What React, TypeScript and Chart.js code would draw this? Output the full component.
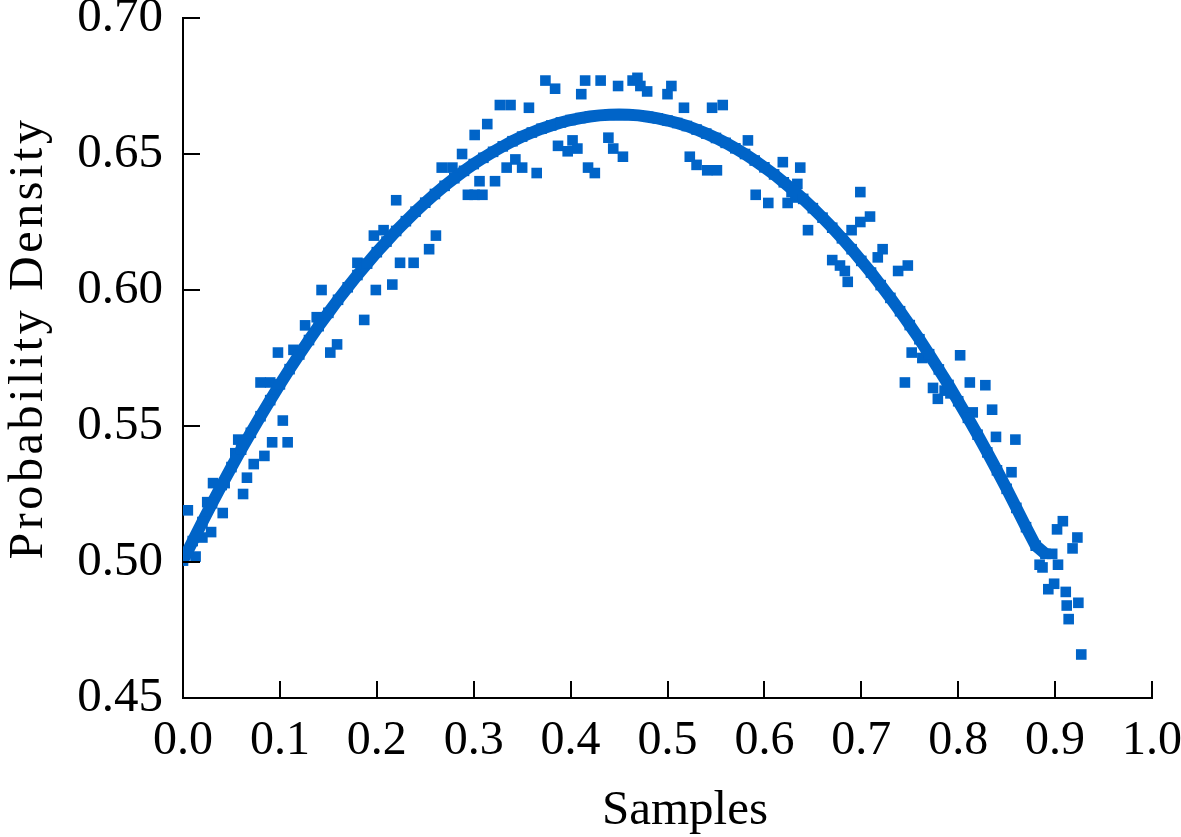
import React, { useEffect, useRef } from 'react';
import { Chart, registerables } from 'chart.js';

Chart.register(...registerables);

// Dense fitted curve
const curveX = [
  0.00, 0.01, 0.02, 0.03, 0.04, 0.05, 0.06, 0.07, 0.08, 0.09,
  0.10, 0.11, 0.12, 0.13, 0.14, 0.15, 0.16, 0.17, 0.18, 0.19,
  0.20, 0.21, 0.22, 0.23, 0.24, 0.25, 0.26, 0.27, 0.28, 0.29,
  0.30, 0.31, 0.32, 0.33, 0.34, 0.35, 0.36, 0.37, 0.38, 0.39,
  0.40, 0.41, 0.42, 0.43, 0.44, 0.45, 0.46, 0.47, 0.48, 0.49,
  0.50, 0.51, 0.52, 0.53, 0.54, 0.55, 0.56, 0.57, 0.58, 0.59,
  0.60, 0.61, 0.62, 0.63, 0.64, 0.65, 0.66, 0.67, 0.68, 0.69,
  0.70, 0.71, 0.72, 0.73, 0.74, 0.75, 0.76, 0.77, 0.78, 0.79,
  0.80, 0.81, 0.82, 0.83, 0.84, 0.85, 0.86, 0.87, 0.88, 0.89,
];
const curveY = [
  0.5005, 0.5077, 0.5147, 0.5216, 0.5283, 0.5349, 0.5413, 0.5475, 0.5536, 0.5595,
  0.5653, 0.5709, 0.5763, 0.5816, 0.5867, 0.5916, 0.5964, 0.6010, 0.6055, 0.6097,
  0.6139, 0.6178, 0.6217, 0.6253, 0.6288, 0.6321, 0.6353, 0.6383, 0.6411, 0.6438,
  0.6463, 0.6486, 0.6508, 0.6528, 0.6547, 0.6564, 0.6579, 0.6593, 0.6605, 0.6616,
  0.6625, 0.6632, 0.6638, 0.6642, 0.6644, 0.6645, 0.6644, 0.6642, 0.6637, 0.6631,
  0.6623, 0.6614, 0.6603, 0.6590, 0.6575, 0.6559, 0.6541, 0.6521, 0.6500, 0.6476,
  0.6451, 0.6425, 0.6396, 0.6366, 0.6335, 0.6301, 0.6266, 0.6229, 0.6190, 0.6150,
  0.6107, 0.6064, 0.6018, 0.5971, 0.5922, 0.5871, 0.5819, 0.5764, 0.5708, 0.5651,
  0.5591, 0.5530, 0.5468, 0.5403, 0.5337, 0.5269, 0.5199, 0.5128, 0.5060, 0.5030,
];

// Scattered samples around the curve
const sampleX = [
  0.005, 0.013, 0.020, 0.025, 0.029, 0.031, 0.041, 0.043, 0.054, 0.057,
  0.062, 0.066, 0.073, 0.080, 0.084, 0.090, 0.092, 0.098, 0.103, 0.108,
  0.114, 0.126, 0.138, 0.143, 0.152, 0.159, 0.180, 0.187, 0.197, 0.199,
  0.207, 0.216, 0.220, 0.224, 0.238, 0.254, 0.261, 0.267, 0.278, 0.288,
  0.294, 0.301, 0.301, 0.306, 0.309, 0.314, 0.322, 0.327, 0.334, 0.338,
  0.343, 0.350, 0.357, 0.365, 0.374, 0.384, 0.387, 0.397, 0.402, 0.407,
  0.411, 0.415, 0.418, 0.425, 0.431, 0.439, 0.444, 0.449, 0.454, 0.464,
  0.469, 0.472, 0.479, 0.500, 0.504, 0.517, 0.523, 0.530, 0.541, 0.546,
  0.551, 0.557, 0.583, 0.591, 0.604, 0.619, 0.624, 0.634, 0.637, 0.645,
  0.670, 0.678, 0.683, 0.686, 0.690, 0.699, 0.699, 0.709, 0.717, 0.722,
  0.738, 0.745, 0.748, 0.752, 0.763, 0.774, 0.779, 0.802, 0.812, 0.815,
  0.828, 0.835, 0.839, 0.855, 0.859, 0.884, 0.887, 0.893, 0.897, 0.899,
  0.902, 0.903, 0.908, 0.911, 0.912, 0.914, 0.918, 0.923, 0.924, 0.927,
  0.628, 0.632, 0.786, 0.792,
];
const sampleY = [
  0.519, 0.502, 0.509, 0.522, 0.511, 0.529, 0.518, 0.529, 0.540, 0.545,
  0.525, 0.531, 0.536, 0.566, 0.539, 0.566, 0.544, 0.577, 0.552, 0.544,
  0.578, 0.587, 0.590, 0.600, 0.577, 0.580, 0.610, 0.589, 0.620, 0.600,
  0.622, 0.602, 0.633, 0.610, 0.610, 0.615, 0.620, 0.645, 0.645, 0.650,
  0.635, 0.657, 0.635, 0.640, 0.635, 0.661, 0.640, 0.668, 0.645, 0.668,
  0.648, 0.645, 0.667, 0.643, 0.677, 0.674, 0.653, 0.651, 0.655, 0.652,
  0.672, 0.677, 0.645, 0.643, 0.677, 0.656, 0.652, 0.675, 0.649, 0.677,
  0.678, 0.675, 0.673, 0.672, 0.675, 0.667, 0.649, 0.646, 0.644, 0.667,
  0.644, 0.668, 0.655, 0.635, 0.632, 0.647, 0.632, 0.639, 0.645, 0.622,
  0.611, 0.609, 0.607, 0.603, 0.622, 0.625, 0.636, 0.627, 0.612, 0.615,
  0.607, 0.566, 0.609, 0.577, 0.575, 0.564, 0.560, 0.576, 0.566, 0.555,
  0.565, 0.556, 0.546, 0.533, 0.545, 0.499, 0.498, 0.490, 0.503, 0.492,
  0.512, 0.499, 0.515, 0.489, 0.484, 0.479, 0.505, 0.509, 0.485, 0.466,
  0.636, 0.634, 0.563, 0.562,
];

const xAxisMin = 0;
const xAxisMax = 1;
const xAxisStep = 0.1;
const yAxisMin = 0.45;
const yAxisMax = 0.7;
const yAxisStep = 0.05;

const xTitle = 'Samples';
const yTitle = 'Probability Density';

const COLOR = '#0064C8';
const FONT = "'Liberation Serif', 'Times New Roman', Times, serif";

const innerTicks = {
  id: 'innerTicks',
  afterDraw(chart: any) {
    const { ctx, chartArea, scales } = chart;
    const len = 17;
    ctx.save();
    ctx.strokeStyle = '#000';
    ctx.lineWidth = 2;
    scales.x.ticks.forEach((t: any) => {
      const p = Math.round(scales.x.getPixelForValue(t.value));
      ctx.beginPath();
      ctx.moveTo(p, chartArea.bottom);
      ctx.lineTo(p, chartArea.bottom - len);
      ctx.stroke();
    });
    scales.y.ticks.forEach((t: any) => {
      const p = Math.round(scales.y.getPixelForValue(t.value));
      ctx.beginPath();
      ctx.moveTo(chartArea.left, p);
      ctx.lineTo(chartArea.left + len, p);
      ctx.stroke();
    });
    ctx.restore();
  },
};

const axisTitles = {
  id: 'axisTitles',
  afterDraw(chart: any) {
    const { ctx } = chart;
    ctx.save();
    ctx.fillStyle = '#000';
    ctx.textAlign = 'center';
    ctx.textBaseline = 'alphabetic';
    // x title
    ctx.font = `49px ${FONT}`;
    ctx.fillText(xTitle, 685, 824);
    // y title
    ctx.font = `48px ${FONT}`;
    (ctx as any).letterSpacing = '3.6px';
    ctx.translate(42, 338);
    ctx.rotate(-Math.PI / 2);
    ctx.fillText(yTitle, 0, 0);
    ctx.restore();
  },
};

export default function App() {
  const ref = useRef<HTMLCanvasElement>(null);

  useEffect(() => {
    document.body.style.margin = '0';
    const canvas = ref.current!;
    const chart = new Chart(canvas, {
      type: 'scatter',
      data: {
        datasets: [
          {
            label: 'curve',
            data: curveX.map((x, i) => ({ x, y: curveY[i] })),
            showLine: true,
            borderColor: COLOR,
            borderWidth: 12,
            backgroundColor: COLOR,
            pointStyle: 'rect',
            pointRadius: 7.5,
            pointBorderWidth: 0,
            pointBackgroundColor: COLOR,
          },
          {
            label: 'samples',
            data: sampleX.map((x, i) => ({ x, y: sampleY[i] })),
            showLine: false,
            backgroundColor: COLOR,
            borderColor: COLOR,
            pointStyle: 'rect',
            pointRadius: 7.5,
            pointBorderWidth: 0,
          },
        ],
      },
      options: {
        animation: false,
        responsive: false,
        devicePixelRatio: 1,
        layout: { padding: { top: 18, right: 29, bottom: 0, left: 0 } },
        plugins: {
          legend: { display: false },
          tooltip: { enabled: false },
        },
        scales: {
          x: {
            type: 'linear',
            min: xAxisMin,
            max: xAxisMax,
            grid: { display: false, drawTicks: false },
            border: { display: true, color: '#000', width: 2 },
            ticks: {
              stepSize: xAxisStep,
              autoSkip: false,
              maxRotation: 0,
              padding: 15,
              color: '#000',
              font: { family: FONT, size: 48, lineHeight: 1.2 },
              callback: (v: any) => Number(v).toFixed(1),
            },
            title: { display: false },
            afterFit: (scale: any) => {
              scale.height = 139;
              scale.paddingLeft = 0;
              scale.paddingRight = 0;
            },
          },
          y: {
            type: 'linear',
            min: yAxisMin,
            max: yAxisMax,
            grid: { display: false, drawTicks: false },
            border: { display: true, color: '#000', width: 2 },
            ticks: {
              stepSize: yAxisStep,
              padding: 20,
              color: '#000',
              font: { family: FONT, size: 49, lineHeight: 1.2 },
              callback: (v: any) => Number(v).toFixed(2),
            },
            title: { display: false },
            afterFit: (scale: any) => {
              scale.width = 183;
              scale.paddingTop = 0;
              scale.paddingBottom = 0;
            },
          },
        },
      },
      plugins: [innerTicks, axisTitles],
    });
    return () => chart.destroy();
  }, []);

  return (
    <div style={{ width: 1181, height: 837 }}>
      <canvas ref={ref} width={1181} height={837} style={{ display: 'block' }} />
    </div>
  );
}
